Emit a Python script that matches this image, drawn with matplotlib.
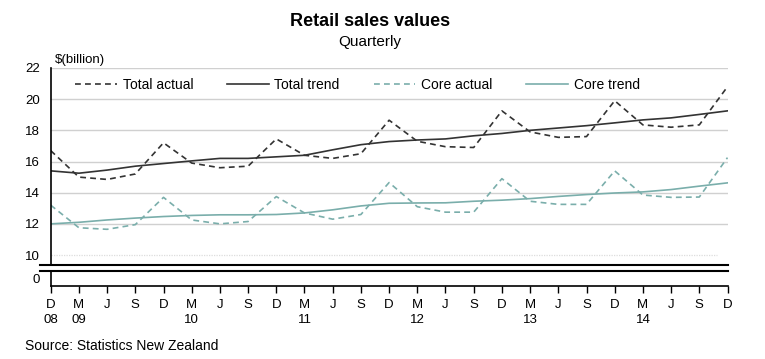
import numpy as np
import matplotlib
matplotlib.use("Agg")
import matplotlib.pyplot as plt
from matplotlib.lines import Line2D

plt.rcParams['font.family'] = ['Liberation Sans', 'DejaVu Sans']

# quarterly data, Dec 2008 to Dec 2014 ($ billion)
quarters = ['D', 'M', 'J', 'S'] * 6 + ['D']
years = {0: '08', 1: '09', 5: '10', 9: '11', 13: '12', 17: '13', 21: '14'}

total_actual = [16.7, 15.0, 14.85, 15.2, 17.2, 15.9, 15.6, 15.7,
                17.45, 16.4, 16.2, 16.5, 18.65, 17.3, 16.95, 16.9,
                19.25, 17.9, 17.55, 17.6, 19.9, 18.35, 18.2, 18.35, 20.8]
total_trend = [15.4, 15.25, 15.45, 15.7, 15.87, 16.04, 16.2, 16.2,
               16.3, 16.4, 16.75, 17.08, 17.28, 17.38, 17.45, 17.65,
               17.8, 18.0, 18.15, 18.3, 18.48, 18.67, 18.8, 19.02, 19.25]
core_actual = [13.2, 11.75, 11.65, 11.95, 13.7, 12.25, 12.0, 12.15,
               13.75, 12.7, 12.3, 12.6, 14.65, 13.1, 12.75, 12.75,
               14.9, 13.45, 13.25, 13.25, 15.4, 13.85, 13.7, 13.72, 16.25]
core_trend = [12.0, 12.1, 12.25, 12.37, 12.47, 12.54, 12.58, 12.58,
              12.6, 12.7, 12.9, 13.15, 13.32, 13.34, 13.35, 13.45,
              13.52, 13.62, 13.76, 13.88, 13.98, 14.05, 14.2, 14.42, 14.63]

x = np.arange(len(quarters))
W, H = 765, 359
dark = '#333333'
teal = '#7aaeab'

fig = plt.figure(figsize=(W / 100, H / 100), dpi=100)

def fx(px):
    return px / W

def fy(py):
    return 1 - py / H

left, right = 50.7, 727.5
ax = fig.add_axes([fx(left), fy(265), fx(right - left), fy(68) - fy(265)])
ax2 = fig.add_axes([fx(left), fy(286), fx(right - left), fy(271) - fy(286)])

ax.plot(x, total_actual, color=dark, lw=1.2, ls=(0, (3.5, 2.5)), label='Total actual')
ax.plot(x, total_trend, color=dark, lw=1.2, label='Total trend')
ax.plot(x, core_actual, color=teal, lw=1.2, ls=(0, (3.5, 2.5)), label='Core actual')
ax.plot(x, core_trend, color=teal, lw=1.2, label='Core trend')

ax.set_xlim(0, 24)
ax.set_ylim(9.36, 22)
ax.set_yticks(range(10, 23, 2))
ax.tick_params(axis='y', length=0, labelsize=9.5, pad=8)
ax.set_xticks([])
for v in range(12, 23, 2):
    ax.axhline(v, color='#d0d0d0', lw=1.0, zorder=0)
ax.axhline(10, color='#dddddd', lw=0.9, ls=(0, (1, 1)), xmax=0.985, zorder=0)
for s in ['top', 'right', 'bottom']:
    ax.spines[s].set_visible(False)
ax.spines['left'].set_linewidth(1.2)

leg = ax.legend(loc='upper left', ncol=4, frameon=False, fontsize=10,
                handlelength=3.0, handletextpad=0.4, columnspacing=2.45,
                bbox_to_anchor=(0.018, 1.015))

ax2.set_xlim(0, 24)
ax2.set_ylim(-1, 1)
ax2.set_yticks([0])
ax2.tick_params(axis='y', length=0, labelsize=9.5, pad=8)
labels = [q + '\n' + years.get(i, '') for i, q in enumerate(quarters)]
ax2.set_xticks(x)
ax2.set_xticklabels(labels, fontsize=9.5, linespacing=1.35)
ax2.tick_params(axis='x', length=5, width=1, pad=4)
for s in ['top', 'right']:
    ax2.spines[s].set_visible(False)
ax2.spines['left'].set_linewidth(1.2)
ax2.spines['bottom'].set_linewidth(1.2)

# axis break lines
for py in (265, 271):
    fig.add_artist(Line2D([fx(40), fx(728)], [fy(py), fy(py)], color='black', lw=1.5))

fig.text(fx(370), fy(21), 'Retail sales values', ha='center', va='center',
         fontsize=13, fontweight='bold')
fig.text(fx(370), fy(42), 'Quarterly', ha='center', va='center', fontsize=11)
fig.text(fx(55), fy(60), '$(billion)', ha='left', va='center', fontsize=9.5)
fig.text(fx(25), fy(346), 'Source: Statistics New Zealand', ha='left', va='center', fontsize=10)

fig.savefig('out.png', dpi=100)
